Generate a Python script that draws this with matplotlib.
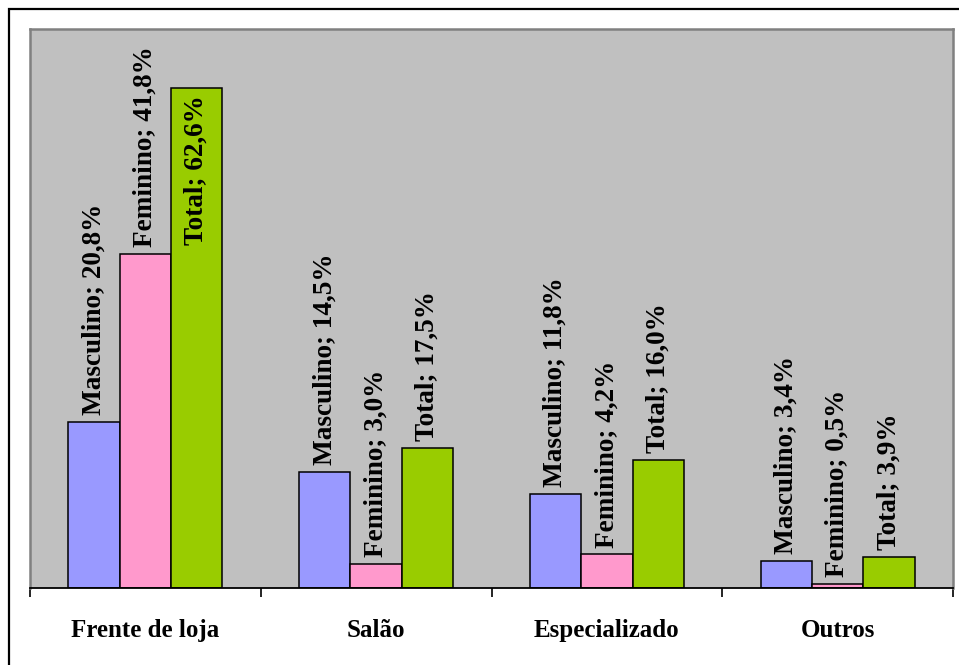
import matplotlib
matplotlib.use("Agg")
import matplotlib.pyplot as plt
from matplotlib.patches import Rectangle
import numpy as np

categories = ["Frente de loja", "Salão", "Especializado", "Outros"]
series_names = ["Masculino", "Feminino", "Total"]
masculino = [20.8, 14.5, 11.8, 3.4]
feminino = [41.8, 3.0, 4.2, 0.5]
total = [62.6, 17.5, 16.0, 3.9]
colors = ["#9999FF", "#FF99CC", "#99CC00"]

plt.rcParams["font.family"] = ["Liberation Serif", "DejaVu Serif"]

W, H = 959, 665
fig = plt.figure(figsize=(W / 100, H / 100), dpi=100)

# outer chart frame
fig.patches.append(Rectangle((9 / W, -0.05), 1.1, 1 - 9 / H + 0.05,
                             transform=fig.transFigure, fill=False,
                             edgecolor="black", linewidth=1.6, zorder=0))

ax = fig.add_axes([30 / W, (H - 588) / H, (953 - 30) / W, (588 - 29) / H])
ax.set_facecolor("#C0C0C0")

n_cat = len(categories)
bar_w = 2 / 9
x = np.arange(n_cat)
data = [masculino, feminino, total]
offsets = [-bar_w, 0, bar_w]

bars_all = []
for name, vals, col, off in zip(series_names, data, colors, offsets):
    bars = ax.bar(x + off, vals, width=bar_w, color=col, edgecolor="black",
                  linewidth=1.1, zorder=2)
    bars_all.append((name, vals, bars))

ax.set_xlim(-0.5, n_cat - 0.5)
ax.set_ylim(0, 70)
ax.set_yticks([])

for side in ["left", "top", "right"]:
    ax.spines[side].set_color("#808080")
    ax.spines[side].set_linewidth(1.8)
ax.spines["bottom"].set_color("black")
ax.spines["bottom"].set_linewidth(1.3)

ax.set_xticks(np.arange(-0.5, n_cat, 1.0))
ax.set_xticklabels([])
ax.tick_params(axis="x", length=6.5, width=1.2, color="black", direction="out")
for i, cat in enumerate(categories):
    ax.text(i, -0.076, cat, transform=ax.get_xaxis_transform(), ha="center",
            va="center", fontsize=18, fontweight="bold")

fig.canvas.draw()
renderer = fig.canvas.get_renderer()
ax_bbox = ax.get_window_extent(renderer)

for name, vals, bars in bars_all:
    for v, b in zip(vals, bars):
        cx = b.get_x() + b.get_width() / 2
        label = f"{name}; {v:.1f}%".replace(".", ",")
        t = ax.annotate(label, (cx, v), xytext=(0, 5), textcoords="offset points",
                        rotation=90, ha="center", va="bottom", fontsize=19.6,
                        fontweight="bold", zorder=3)
        bb = t.get_window_extent(renderer)
        if bb.y1 > ax_bbox.y1:
            t.set_va("top")
            t.xyann = (0, -5)

fig.savefig("out.png", dpi=100)
